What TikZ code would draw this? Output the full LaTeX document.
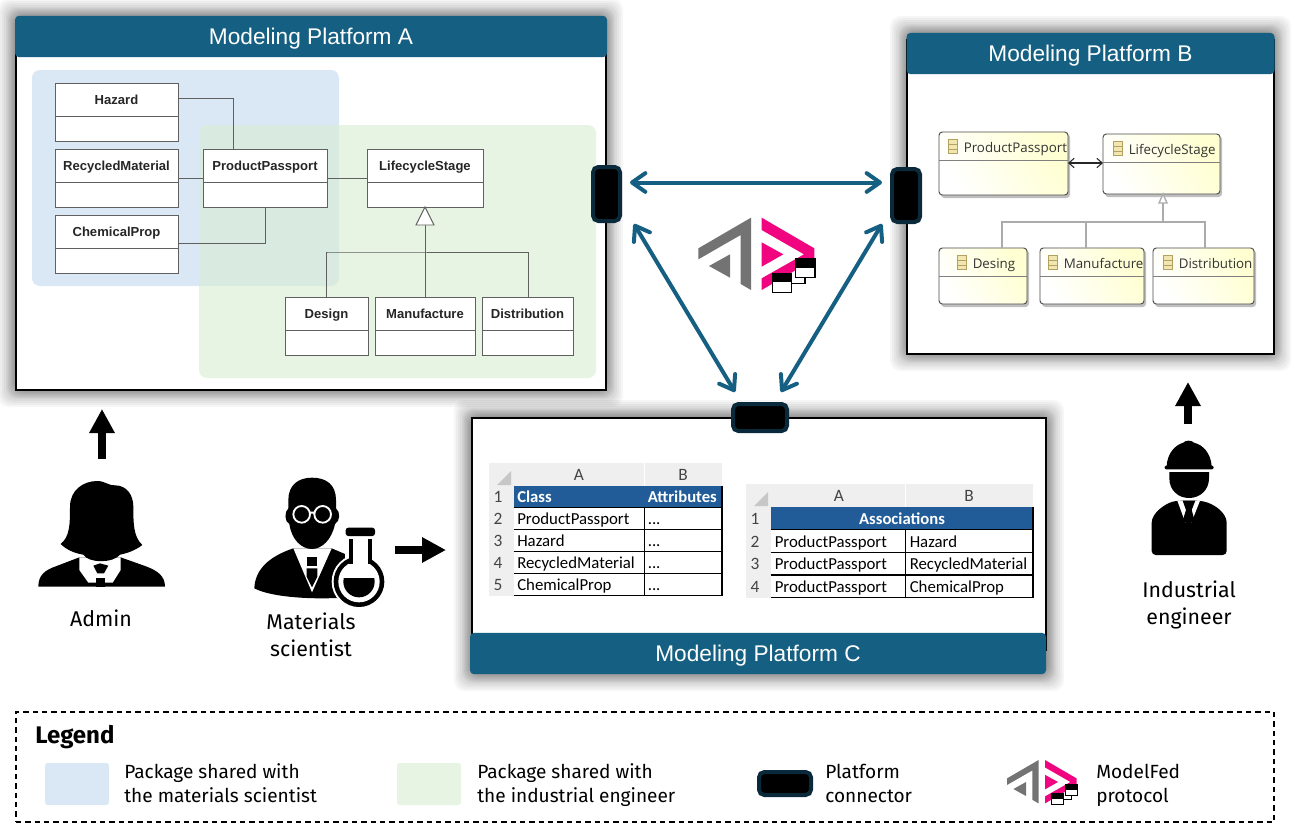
\documentclass[tikz,border=0pt]{standalone}
\usepackage{fontspec}
\setmainfont{Liberation Sans}
\newfontfamily\xlf{Carlito}
\newfontfamily\segf{Open Sans}
\newfontfamily\labf{Fira Sans}
\usetikzlibrary{arrows.meta,positioning,calc}
\definecolor{hdr}{HTML}{156082}
\definecolor{pkgblue}{HTML}{DAE8F6}
\definecolor{pkggreen}{HTML}{E8F4E3}
\definecolor{pkgmix}{HTML}{D9EBE0}
\definecolor{connedge}{HTML}{0A2A3C}
\definecolor{umlline}{HTML}{606060}
\definecolor{xlhead}{HTML}{215C98}
\definecolor{xlgray}{HTML}{EFEFEF}
\definecolor{xltext}{HTML}{444444}
\definecolor{logopink}{HTML}{F0047F}
\definecolor{logogray}{HTML}{737373}
\definecolor{iconfill}{HTML}{F2E6B0}
\definecolor{iconedge}{HTML}{B3A161}
\definecolor{ecoreedge}{HTML}{4A4A4A}
\definecolor{ecorelink}{HTML}{ABABAB}
\tikzset{
  x=0.75pt,y=-0.75pt,
  frame/.style={draw=black,fill=white,line width=1.6pt,inner sep=0pt,outer sep=0pt},
  header/.style={fill=hdr,text=white,rounded corners=3pt,inner sep=0pt,outer sep=0pt,font=\fontsize{17}{20}\selectfont},
  platconn/.style={fill=black,draw=connedge,line width=3pt,rounded corners=4pt,inner sep=0pt,outer sep=0pt},
  umlbox/.style={draw=umlline,fill=white,line width=0.7pt,inner sep=0pt,outer sep=0pt},
  umldiv/.style={draw=umlline,line width=0.7pt},
  umltitle/.style={font=\fontsize{9.8}{11}\selectfont\bfseries,text=black!85,inner sep=0pt,text height=7pt,text depth=0pt},
  umllink/.style={draw=umlline,line width=0.7pt},
  ecorebox/.style={draw=ecoreedge,line width=0.7pt,rounded corners=2.5pt,left color=white,right color=yellow!18,shading angle=120,inner sep=0pt,outer sep=0pt},
  ecorediv/.style={draw=ecoreedge!70,line width=0.6pt},
  ecoretitle/.style={font=\fontsize{10}{13}\selectfont\segf,text=black!80,inner sep=0pt,anchor=west,text height=9.4pt,text depth=0pt},
  ecorelinkst/.style={draw=ecorelink,line width=1pt},
  link/.style={draw=hdr,line width=3pt,{Straight Barb[length=10pt,width=14pt,round]}-{Straight Barb[length=10pt,width=14pt,round]}},
  bigarrow/.style={draw=black,line width=6pt,-{Triangle[length=18pt,width=18pt]}},
  actorlabel/.style={font=\fontsize{16}{20.5}\selectfont\labf,align=center,inner sep=0pt},
  legendtext/.style={font=\fontsize{14.3}{18}\selectfont\labf,align=left,anchor=west,inner sep=0pt},
  cell/.style={font=\fontsize{12.6}{14}\selectfont\xlf,anchor=west,inner sep=0pt,text height=8.5pt,text depth=0.5pt},
  cellh/.style={font=\fontsize{12.5}{14}\selectfont\xlf\bfseries,text=white,inner sep=0pt,text height=8.5pt,text depth=0.5pt},
  rowno/.style={font=\fontsize{13}{14}\selectfont\xlf,text=xltext,inner sep=0pt},
  logopic/.pic={
    \fill[logogray] (213,53)--(55,145)--(55,178)--(182,105)--(182,252)--(213,270)--cycle;
    \fill[logogray] (150,163)--(87,198)--(150,233)--cycle;
    \fill[logopink] (245,53)--(403,145)--(403,178)--(245,270)--(245,235)--(372,163)--(245,90)--cycle;
    \fill[logopink] (245,127)--(310,163)--(245,200)--cycle;
    \draw[black,line width=#1] (375,232)--(375,250)--(335,250);
    \fill[white] (347,177) rectangle (405,232);
    \fill[black] (347,177) rectangle (405,203);
    \draw[black,line width=#1] (347,177) rectangle (405,232);
    \fill[white] (277,222) rectangle (335,277);
    \fill[black] (277,222) rectangle (335,247);
    \draw[black,line width=#1] (277,222) rectangle (335,277);
  }
}
\newcommand{\softshadow}[4]{%
  \foreach \r in {17,15,13,11,9,8,7,6,5,4,3,2,1}{%
    \fill[black,opacity=0.035,rounded corners=8pt] (#1-\r,#2-\r) rectangle (#3+\r,#4+\r);}%
}
\newcommand{\hdrtext}[1]{\raisebox{-6.3pt}[0pt][0pt]{#1}}
\newcommand{\boxnode}[6]{% style name x1 y1 x2 y2
  \pgfmathsetmacro{\cx}{(#3+#5)/2}\pgfmathsetmacro{\cy}{(#4+#6)/2}%
  \pgfmathsetmacro{\bw}{(#5-#3)*0.75}\pgfmathsetmacro{\bh}{(#6-#4)*0.75}%
  \node[#1,minimum width=\bw pt,minimum height=\bh pt] (#2) at (\cx,\cy) {};%
}
\newcommand{\umlclass}[7]{% name x1 y1 x2 y2 div text
  \boxnode{umlbox}{#1}{#2}{#3}{#4}{#5}%
  \draw[umldiv] (#2,#6)--(#4,#6);%
  \pgfmathsetmacro{\tx}{(#2+#4)/2}\pgfmathsetmacro{\ty}{(#3+#6)/2}%
  \node[umltitle] (#1-t) at (\tx,\ty) {#7};%
}
\newcommand{\ecoreclass}[9]{% name x1 y1 x2 y2 div iconx texty text
  \fill[black!25,rounded corners=2.5pt] (#2+2,#3+2) rectangle (#4+2,#5+3);%
  \boxnode{ecorebox}{#1}{#2}{#3}{#4}{#5}%
  \draw[ecorediv] (#2,#6)--(#4,#6);%
  \draw[iconedge,fill=iconfill,line width=0.6pt] (#7,#8-7) rectangle (#7+9,#8+7);%
  \draw[iconedge,line width=0.6pt] (#7,#8-2.5)--(#7+9,#8-2.5) (#7,#8+2.5)--(#7+9,#8+2.5);%
  \node[ecoretitle] (#1-t) at (#7+15.5,#8) {#9};%
}
\begin{document}
\begin{tikzpicture}
\useasboundingbox (0,0) rectangle (1292,828);
\fill[white] (0,0) rectangle (1292,828);

% ---------- Platform A
\softshadow{15}{16}{606}{390}
\boxnode{frame}{frameA}{16}{20}{606}{390}
\node[header,minimum width=444pt,minimum height=31pt] (headA) at (311,36.5) {\hdrtext{Modeling Platform A}};
\fill[pkgblue,rounded corners=6pt] (32,70) rectangle (339,286);
\fill[pkggreen,rounded corners=6pt] (199,125) rectangle (596,378);
\begin{scope}
  \clip[rounded corners=6pt] (32,70) rectangle (339,286);
  \fill[pkgmix,rounded corners=6pt] (199,125) rectangle (596,378);
\end{scope}
\umlclass{hazard}{55}{83}{178}{141}{116}{Hazard}
\umlclass{recycled}{55}{149}{178}{207}{182}{RecycledMaterial}
\umlclass{chem}{55}{215}{178}{273}{248}{ChemicalProp}
\umlclass{pp}{203}{149}{327}{207}{182}{ProductPassport}
\umlclass{ls}{367}{149}{483}{207}{182}{LifecycleStage}
\umlclass{design}{285}{297}{368}{355}{330}{Design}
\umlclass{manu}{375}{297}{475}{355}{330}{Manufacture}
\umlclass{dist}{482}{297}{573}{355}{330}{Distribution}
\draw[umllink] (hazard.east |- 0,98) -| (pp.north -| 233,0);
\draw[umllink] (recycled.east |- 0,178) -- (pp.west |- 0,178);
\draw[umllink] (pp.east |- 0,178) -- (ls.west |- 0,178);
\draw[umllink] (chem.east |- 0,243) -| (pp.south -| 265,0);
\coordinate (triA) at (425,225);
\draw[umllink] (manu.north) -- (triA);
\draw[umllink,fill=white] (ls.south) -- (416,225) -- (434,225) -- cycle;
\draw[umllink] (design.north) |- (328,252) -- (528,252) -- (dist.north -| 528,0);

% ---------- Platform B
\softshadow{907}{33}{1274}{354}
\boxnode{frame}{frameB}{907}{40}{1274}{354}
\node[header,minimum width=276pt,minimum height=31pt] (headB) at (1090.5,53.5) {\hdrtext{Modeling Platform B}};
\ecoreclass{epp}{939}{132}{1068}{195}{160}{948}{146.5}{ProductPassport}
\ecoreclass{els}{1103}{134}{1220}{194}{162}{1113}{148.5}{LifecycleStage}
\ecoreclass{edes}{939}{248}{1027}{304}{276}{957}{262.5}{Desing}
\ecoreclass{eman}{1040}{248}{1144}{304}{276}{1048}{262.5}{Manufacture}
\ecoreclass{edis}{1153}{248}{1254}{304}{276}{1163}{262.5}{Distribution}
\draw[black!85,line width=0.8pt,{Straight Barb[length=4pt,width=7pt]}-{Straight Barb[length=4pt,width=7pt]}] (epp.east |- 0,163) -- (els.west |- 0,163);
\draw[ecorelinkst] (edes.north -| 1002,0) |- (1205,222) -- (edis.north -| 1205,0);
\draw[ecorelinkst] (eman.north -| 1086,0) -- (1086,222);
\draw[ecorelinkst] (1163,222) -- (1163,203);
\draw[ecorelinkst,fill=white] (els.south -| 1163,0) -- (1159,203) -- (1167,203) -- cycle;

% ---------- Platform C
\softshadow{471}{417}{1047}{674}
\boxnode{frame}{frameC}{472}{418}{1046}{650}
\node[header,minimum width=432pt,minimum height=31pt] (headC) at (758,653.5) {\hdrtext{Modeling Platform C}};

% table 1
\fill[xlgray] (489,463) rectangle (722,485.5);
\fill[xlgray] (489,463) rectangle (513.5,596);
\fill[black!22] (497,485)--(511,485)--(511,471)--cycle;
\draw[white,line width=0.6pt] (644.5,463)--(644.5,485.5);
\fill[xlhead] (513.5,485.5) rectangle (722,507.3);
\draw[black,line width=0.9pt] (513.5,507.3)--(722,507.3) (513.5,529.3)--(722,529.3) (513.5,551.5)--(722,551.5) (513.5,573.5)--(722,573.5) (513.5,595.7)--(722,595.7) (644.5,507.3)--(644.5,595.7) (722,485.5)--(722,595.7);
\node[rowno] (t1a) at (579,475) {A};
\node[rowno] (t1b) at (683,475) {B};
\node[rowno] (t1r1) at (498,497) {1};
\node[rowno] (t1r2) at (498,519) {2};
\node[rowno] (t1r3) at (498,541) {3};
\node[rowno] (t1r4) at (498,563) {4};
\node[rowno] (t1r5) at (498,585) {5};
\node[cellh,anchor=west] (t1h1) at (517,497) {Class};
\node[cellh,anchor=west] (t1h2) at (647.5,497) {Attributes};
\node[cell] (t1c2) at (517,519) {ProductPassport};
\node[cell] (t1c3) at (517,541) {Hazard};
\node[cell] (t1c4) at (517,563) {RecycledMaterial};
\node[cell] (t1c5) at (517,585) {ChemicalProp};
\node[cell] (t1d2) at (647.5,519) {...};
\node[cell] (t1d3) at (647.5,541) {...};
\node[cell] (t1d4) at (647.5,563) {...};
\node[cell] (t1d5) at (647.5,585) {...};

% table 2
\fill[xlgray] (746,484) rectangle (1033,507.3);
\fill[xlgray] (746,484) rectangle (770.8,598);
\fill[black!22] (754,506)--(768,506)--(768,492)--cycle;
\draw[white,line width=0.6pt] (905.8,484)--(905.8,507.3);
\fill[xlhead] (770.8,507.3) rectangle (1033,529.3);
\draw[black,line width=0.9pt] (770.8,529.3)--(1033,529.3) (770.8,552.3)--(1033,552.3) (770.8,575)--(1033,575) (770.8,597.7)--(1033,597.7) (905.8,529.3)--(905.8,597.7) (1033,507.3)--(1033,597.7);
\node[rowno] (t2a) at (839,496) {A};
\node[rowno] (t2b) at (969,496) {B};
\node[rowno] (t2r1) at (755,519) {1};
\node[rowno] (t2r2) at (755,541.5) {2};
\node[rowno] (t2r3) at (755,564) {3};
\node[rowno] (t2r4) at (755,587) {4};
\node[cellh] (t2h) at (902,519) {Associations};
\node[cell] (t2c2) at (774.5,542) {ProductPassport};
\node[cell] (t2c3) at (774.5,564.5) {ProductPassport};
\node[cell] (t2c4) at (774.5,587.5) {ProductPassport};
\node[cell] (t2d2) at (909.5,542) {Hazard};
\node[cell] (t2d3) at (909.5,564.5) {RecycledMaterial};
\node[cell] (t2d4) at (909.5,587.5) {ChemicalProp};

% ---------- connectors
\boxnode{platconn}{conA}{593}{167}{620}{221}
\boxnode{platconn}{conB}{892}{169}{920}{222}
\boxnode{platconn}{conC}{733}{404}{787}{431}
\coordinate (aR) at (630,182.5);
\coordinate (bL) at (882,182.5);
\coordinate (aD) at (634,224);
\coordinate (cL) at (735,392);
\coordinate (bD) at (882,224);
\coordinate (cR) at (781,392);
\draw[link] (aR) -- (bL);
\draw[link] (aD) -- (cL);
\draw[link] (bD) -- (cR);

% ---------- logo
\begin{scope}[shift={(680,200)},x=0.25pt,y=-0.25pt]
  \pic {logopic=1pt};
\end{scope}

% ---------- Admin
\coordinate (adminTop) at (102,459);
\coordinate (frameAb) at (102,409);
\draw[bigarrow] (adminTop) -- (frameAb);
\begin{scope}[shift={(20,400)},x=0.25pt,y=-0.25pt]
  \fill (55,560) .. controls (55,525) and (75,510) .. (110,498) -- (178,472) -- (302,472) -- (375,498) .. controls (415,512) and (435,530) .. (435,560) -- cycle;
  \fill[white] (178,472) -- (178,510) -- (205,548) -- (228,548) -- (255,548) -- (278,548) -- (302,510) -- (302,472) -- cycle;
  \fill (220,497) -- (240,490) -- (265,497) -- (252,520) -- (232,520) -- cycle;
  \fill (228,533) rectangle (255,560);
  \fill (122,432) .. controls (150,410) and (150,370) .. (150,320) .. controls (150,270) and (190,243) .. (232,243) .. controls (255,243) and (268,258) .. (285,256) .. controls (320,256) and (340,285) .. (340,320) .. controls (340,370) and (340,410) .. (367,435) .. controls (345,452) and (320,460) .. (300,464) .. controls (280,490) and (205,490) .. (190,464) .. controls (165,460) and (140,450) .. (122,432) -- cycle;
\end{scope}
\node[actorlabel] (adminL) at (101,618) {Admin};

% ---------- Materials scientist
\coordinate (sciR) at (395,550);
\coordinate (frameCl) at (446,550);
\draw[bigarrow] (sciR) -- (frameCl);
\begin{scope}[shift={(20,400)},x=0.25pt,y=-0.25pt]
  \fill (703,565) .. controls (705,510) and (745,470) .. (820,445) -- (935,445) -- (975,462) -- (975,600) -- (950,594) .. controls (860,598) and (750,590) .. (703,565) -- cycle;
  \fill[white] (820,445) -- (876,577) -- (935,445) -- cycle;
  \fill (860,470) rectangle (892,498);
  \fill (860,505) -- (892,505) -- (892,530) -- (876,562) -- (860,530) -- cycle;
  \fill (805,300) .. controls (805,255) and (835,233) .. (876,233) .. controls (920,233) and (948,255) .. (948,300) -- (948,325) .. controls (962,335) and (960,365) .. (945,372) .. controls (935,420) and (905,447) .. (876,447) .. controls (845,447) and (815,420) .. (808,372) .. controls (793,365) and (793,335) .. (805,325) -- cycle;
  \draw[white,line width=1.4pt] (845,343) circle (25) (908,343) circle (25) (870,338) -- (883,338);
  \fill[white] (1017,545) circle (82);
  \fill[white] (975,400) rectangle (1065,500);
  \fill (1017,545) circle (76);
  \fill[white] (1017,545) circle (62);
  \fill[white] (998,410) rectangle (1044,500);
  \fill (986,418) rectangle (998,492);
  \fill (1044,418) rectangle (1056,492);
  \fill[rounded corners=2pt] (977,383) rectangle (1065,408);
  \begin{scope}
    \clip (1017,545) circle (47);
    \fill (960,533) rectangle (1080,610);
  \end{scope}
\end{scope}
\node[actorlabel] (sciL) at (311,635) {Materials\\scientist};

% ---------- Industrial engineer
\coordinate (engTop) at (1188,424);
\coordinate (frameBb) at (1188,382);
\draw[bigarrow] (engTop) -- (frameBb);
\begin{scope}[shift={(1120,370)},x=0.25pt,y=-0.25pt]
  \fill[rounded corners=3pt] (95,555) -- (95,470) .. controls (95,430) and (135,400) .. (172,392) -- (240,392) .. controls (285,402) and (320,430) .. (320,470) -- (320,555) -- cycle;
  \fill[white] (172,392) -- (196,458) -- (204,440) -- (214,458) -- (240,392) -- cycle;
  \fill (188,392) -- (226,392) -- (215,420) -- (224,452) -- (205,462) -- (188,452) -- (198,420) -- cycle;
  \fill (148,306) -- (267,306) -- (267,325) .. controls (267,360) and (240,384) .. (207,384) .. controls (174,384) and (148,360) .. (148,325) -- cycle;
  \fill (140,288) .. controls (142,250) and (165,225) .. (190,218) .. controls (195,210) and (215,210) .. (222,218) .. controls (250,225) and (272,250) .. (275,288) -- cycle;
  \fill[rounded corners=1pt] (134,287) rectangle (281,298);
\end{scope}
\node[actorlabel] (engL) at (1189,605) {Industrial\\engineer};

% ---------- Legend
\boxnode{draw=black,line width=1.2pt,dash pattern=on 4pt off 3pt,inner sep=0pt}{legend}{16}{712}{1274}{822}
\node[font=\fontsize{18}{20}\selectfont\labf\bfseries,anchor=west,inner sep=0pt] (legendT) at (35,737) {Legend};
\fill[pkgblue,rounded corners=2pt] (45,763) rectangle (109,805);
\node[legendtext] (lt1) at (124,783.5) {Package shared with\\the materials scientist};
\fill[pkggreen,rounded corners=2pt] (397,763) rectangle (461,805);
\node[legendtext] (lt2) at (477,785.5) {Package shared with\\the industrial engineer};
\boxnode{platconn}{legCon}{759}{772}{811}{795}
\node[legendtext] (lt3) at (825,783) {Platform\\connector};
\begin{scope}[shift={(996,749.4)},x=0.15pt,y=-0.15pt]
  \pic {logopic=0.7pt};
\end{scope}
\node[legendtext] (lt4) at (1096,785.5) {ModelFed\\protocol};
\end{tikzpicture}
\end{document}
